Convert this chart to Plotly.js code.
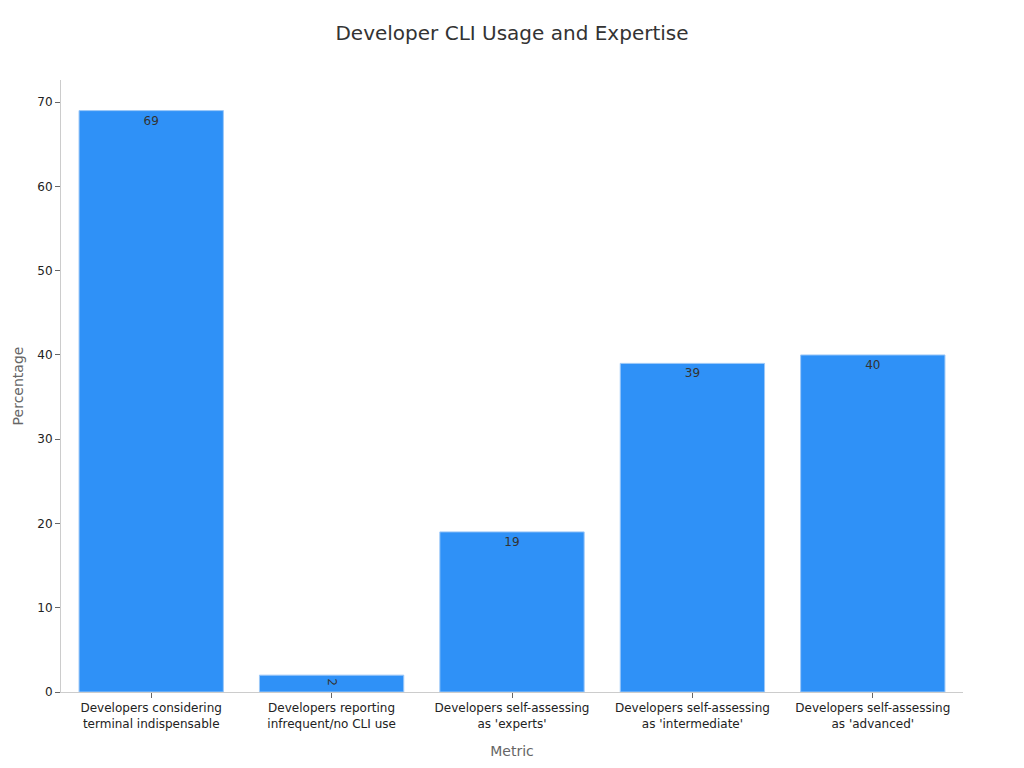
<!DOCTYPE html>
<html>
<head>
<meta charset="utf-8">
<script src="https://cdn.plot.ly/plotly-3.0.1.min.js"></script>
<style>body{margin:0;padding:0;background:#fff;}#chart{width:1024px;height:768px;}</style>
</head>
<body>
<div id="chart"></div>
<script>
const categories = [
  "Developers considering<br>terminal indispensable",
  "Developers reporting<br>infrequent/no CLI use",
  "Developers self-assessing<br>as 'experts'",
  "Developers self-assessing<br>as 'intermediate'",
  "Developers self-assessing<br>as 'advanced'"
];
const values = [69, 2, 19, 39, 40];
const labels = values.map(v => String(v));

const trace = {
  type: 'bar',
  x: categories,
  y: values,
  text: labels,
  textposition: 'inside',
  insidetextanchor: 'end',
  insidetextfont: {color: '#333333', size: 12},
  marker: {color: '#2f91f7', line: {color: '#9cc8f8', width: 1}},
  hoverinfo: 'none'
};

const layout = {
  width: 1024, height: 768,
  font: {family: 'DejaVu Sans, sans-serif', color: '#222'},
  title: {text: 'Developer CLI Usage and Expertise', font: {size: 20, color: '#333'}, x: 0.5, y: 0.957, yanchor: 'middle'},
  margin: {l: 61, r: 61, t: 80, b: 76},
  bargap: 0.2,
  showlegend: false,
  plot_bgcolor: '#fff', paper_bgcolor: '#fff',
  xaxis: {
    title: {text: 'Metric', font: {size: 14, color: '#666'}, standoff: 16},
    showline: true, linecolor: '#ccc', ticks: 'outside', tickcolor: '#666', ticklen: 5,
    tickfont: {size: 12, color: '#222'}, showgrid: false
  },
  yaxis: {
    title: {text: 'Percentage', font: {size: 14, color: '#666'}},
    showline: true, linecolor: '#ccc', ticks: 'outside', tickcolor: '#666', ticklen: 5,
    tickfont: {size: 12, color: '#222'}, showgrid: false, zeroline: false,
    dtick: 10
  }
};

Plotly.newPlot('chart', [trace], layout, {displayModeBar: false});
</script>
</body>
</html>
